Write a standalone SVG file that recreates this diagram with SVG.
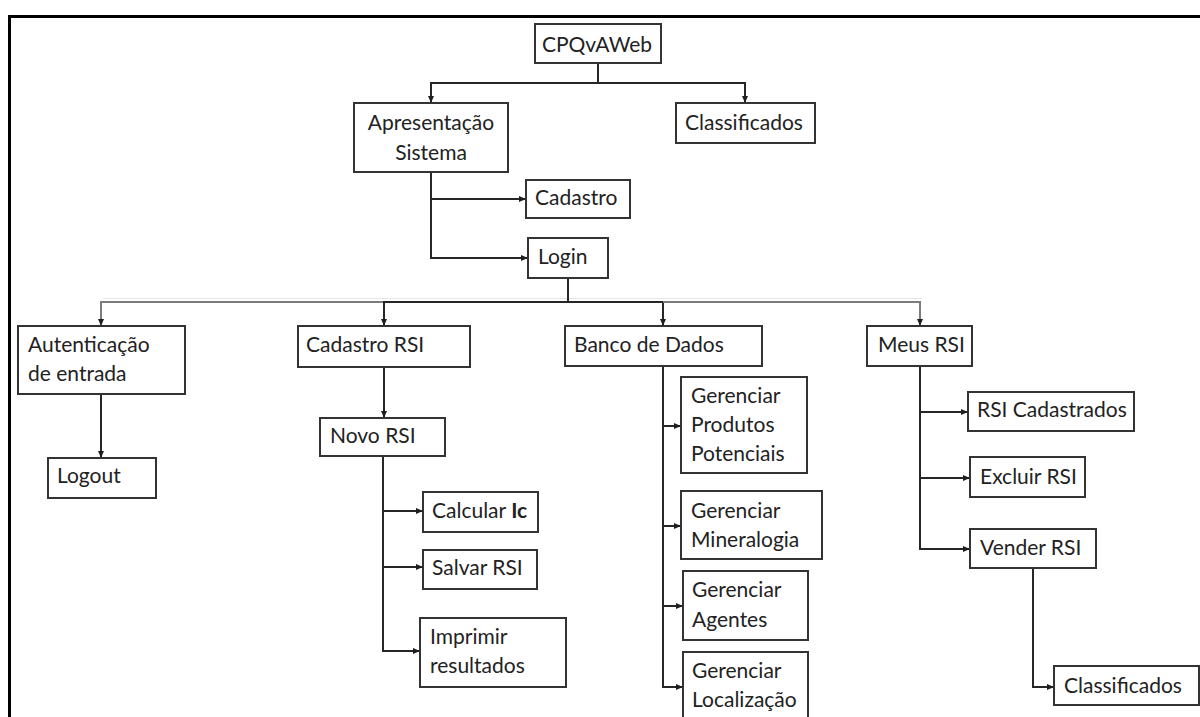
<svg xmlns="http://www.w3.org/2000/svg" width="1200" height="717" viewBox="0 0 1200 717">
  <defs>
    <marker id="arrow" viewBox="0 0 8 8" refX="8" refY="4" markerWidth="7" markerHeight="7" markerUnits="userSpaceOnUse" orient="auto">
      <path d="M0,0.6 L8,4 L0,7.4 z" fill="#1e1e1e"/>
    </marker>
  </defs>
  <style>
    .box{fill:#fff;stroke:#333;stroke-width:2}
    .lbl{font-family:Lato,"Liberation Sans",sans-serif;font-size:21px;fill:#222}
    .c{text-anchor:middle}
    .wire{fill:none;stroke:#262626;stroke-width:2}
    .soft{stroke:#7c7c7c}
    .ghost{fill:none;stroke:#e6e6e6;stroke-width:1}
  </style>

  <rect width="1200" height="717" fill="#fff"/>
  <!-- page frame -->
  <path d="M9.5,717 V16.5 H1200" fill="none" stroke="#000" stroke-width="3"/>

  <g id="connectors">
    <path class="ghost" d="M103,298.5 H922"/>
    <path class="wire" d="M598,63 V83"/>
    <path class="wire" d="M598,83 H431 V103" marker-end="url(#arrow)"/>
    <path class="wire" d="M598,83 H745 V103" marker-end="url(#arrow)"/>
    <path class="wire" d="M431,172 V258 H528" marker-end="url(#arrow)"/>
    <path class="wire" d="M431,199 H526" marker-end="url(#arrow)"/>
    <path class="wire" d="M568,278 V302"/>
    <path class="wire soft" d="M384,302 H101 V326" marker-end="url(#arrow)"/>
    <path class="wire" d="M568,302 H384 V326" marker-end="url(#arrow)"/>
    <path class="wire" d="M568,302 H663 V326" marker-end="url(#arrow)"/>
    <path class="wire soft" d="M663,302 H920 V326" marker-end="url(#arrow)"/>
    <path class="wire" d="M101,394 V458" marker-end="url(#arrow)"/>
    <path class="wire" d="M384,367 V418" marker-end="url(#arrow)"/>
    <path class="wire" d="M383,456 V651 H420" marker-end="url(#arrow)"/>
    <path class="wire" d="M383,511 H423" marker-end="url(#arrow)"/>
    <path class="wire" d="M383,567 H423" marker-end="url(#arrow)"/>
    <path class="wire" d="M663,366 V687 H683" marker-end="url(#arrow)"/>
    <path class="wire" d="M663,426 H681" marker-end="url(#arrow)"/>
    <path class="wire" d="M663,526 H681" marker-end="url(#arrow)"/>
    <path class="wire" d="M663,606 H683" marker-end="url(#arrow)"/>
    <path class="wire" d="M920,366 V549 H970" marker-end="url(#arrow)"/>
    <path class="wire" d="M920,412 H968" marker-end="url(#arrow)"/>
    <path class="wire" d="M920,478 H970" marker-end="url(#arrow)"/>
    <path class="wire" d="M1033,568 V687 H1054" marker-end="url(#arrow)"/>
  </g>

  <g id="cpqvaweb">
    <rect class="box" x="535" y="24" width="126" height="39"/>
    <text class="lbl c" x="597" y="52">CPQvAWeb</text>
  </g>
  <g id="apresentacao-sistema">
    <rect class="box" x="354" y="103" width="154" height="69"/>
    <text class="lbl c" x="431" y="130">Apresentação</text>
    <text class="lbl c" x="431" y="160">Sistema</text>
  </g>
  <g id="classificados-topo">
    <rect class="box" x="676" y="103" width="139" height="40"/>
    <text class="lbl" x="685" y="130">Classificados</text>
  </g>
  <g id="cadastro">
    <rect class="box" x="526" y="180" width="104" height="38"/>
    <text class="lbl" x="535" y="205">Cadastro</text>
  </g>
  <g id="login">
    <rect class="box" x="528" y="238" width="80" height="40"/>
    <text class="lbl" x="538" y="264">Login</text>
  </g>
  <g id="autenticacao">
    <rect class="box" x="18" y="326" width="167" height="68"/>
    <text class="lbl" x="28" y="352">Autenticação</text>
    <text class="lbl" x="28" y="381">de entrada</text>
  </g>
  <g id="logout">
    <rect class="box" x="48" y="458" width="108" height="40"/>
    <text class="lbl" x="57" y="483">Logout</text>
  </g>
  <g id="cadastro-rsi">
    <rect class="box" x="298" y="326" width="172" height="41"/>
    <text class="lbl" x="306" y="352">Cadastro RSI</text>
  </g>
  <g id="novo-rsi">
    <rect class="box" x="320" y="418" width="125" height="38"/>
    <text class="lbl" x="330" y="443">Novo RSI</text>
  </g>
  <g id="calcular-ic">
    <rect class="box" x="423" y="492" width="115" height="40"/>
    <text class="lbl" x="432" y="518">Calcular <tspan font-weight="bold">Ic</tspan></text>
  </g>
  <g id="salvar-rsi">
    <rect class="box" x="423" y="550" width="114" height="39"/>
    <text class="lbl" x="432" y="575">Salvar RSI</text>
  </g>
  <g id="imprimir-resultados">
    <rect class="box" x="420" y="618" width="146" height="69"/>
    <text class="lbl" x="430" y="644">Imprimir</text>
    <text class="lbl" x="430" y="673">resultados</text>
  </g>
  <g id="banco-de-dados">
    <rect class="box" x="565" y="326" width="197" height="40"/>
    <text class="lbl" x="574" y="352">Banco de Dados</text>
  </g>
  <g id="gerenciar-produtos">
    <rect class="box" x="681" y="377" width="126" height="96"/>
    <text class="lbl" x="691" y="403">Gerenciar</text>
    <text class="lbl" x="691" y="432">Produtos</text>
    <text class="lbl" x="691" y="461">Potenciais</text>
  </g>
  <g id="gerenciar-mineralogia">
    <rect class="box" x="681" y="491" width="141" height="68"/>
    <text class="lbl" x="691" y="518">Gerenciar</text>
    <text class="lbl" x="691" y="547">Mineralogia</text>
  </g>
  <g id="gerenciar-agentes">
    <rect class="box" x="683" y="571" width="125" height="69"/>
    <text class="lbl" x="692" y="597">Gerenciar</text>
    <text class="lbl" x="692" y="627">Agentes</text>
  </g>
  <g id="gerenciar-localizacao">
    <rect class="box" x="683" y="652" width="125" height="80"/>
    <text class="lbl" x="692" y="678">Gerenciar</text>
    <text class="lbl" x="692" y="707">Localização</text>
  </g>
  <g id="meus-rsi">
    <rect class="box" x="867" y="326" width="105" height="40"/>
    <text class="lbl" x="878" y="352">Meus RSI</text>
  </g>
  <g id="rsi-cadastrados">
    <rect class="box" x="968" y="392" width="166" height="39"/>
    <text class="lbl" x="977" y="417">RSI Cadastrados</text>
  </g>
  <g id="excluir-rsi">
    <rect class="box" x="970" y="457" width="115" height="40"/>
    <text class="lbl" x="980" y="484">Excluir RSI</text>
  </g>
  <g id="vender-rsi">
    <rect class="box" x="970" y="529" width="126" height="39"/>
    <text class="lbl" x="980" y="555">Vender RSI</text>
  </g>
  <g id="classificados">
    <rect class="box" x="1054" y="666" width="145" height="39"/>
    <text class="lbl" x="1064" y="693">Classificados</text>
  </g>
</svg>
